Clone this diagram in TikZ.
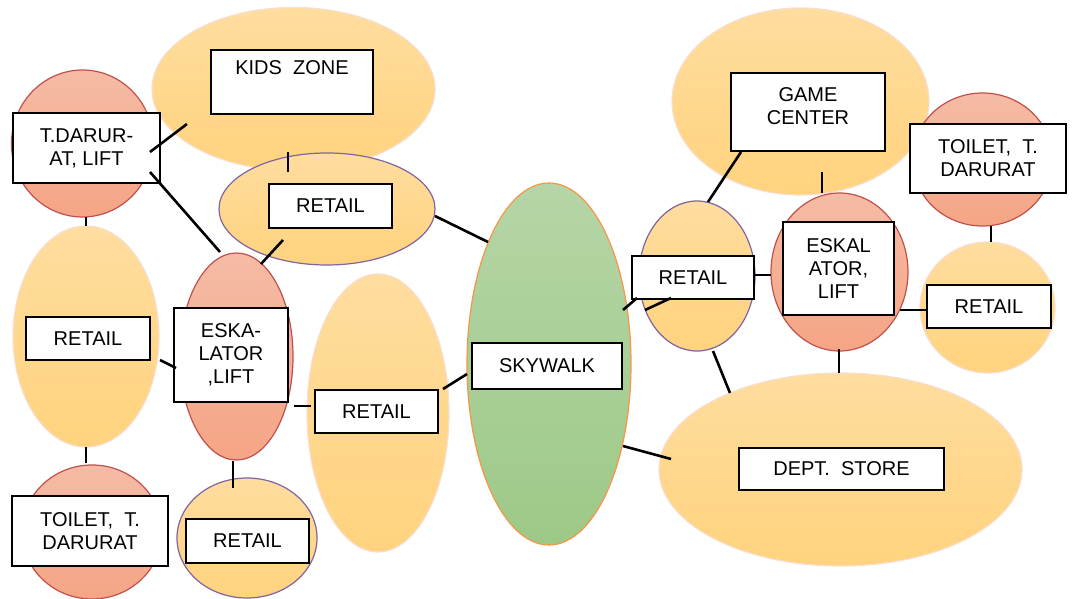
\documentclass[tikz,border=0pt]{standalone}
\usepackage{fontspec}
\setmainfont{Liberation Sans}
\usepackage{tikz}
\usetikzlibrary{shapes.geometric, positioning, calc}

\definecolor{yelTop}{RGB}{255,221,159}
\definecolor{yelBot}{RGB}{255,211,126}
\definecolor{yelEdge}{RGB}{248,222,206}
\definecolor{redTop}{RGB}{245,187,165}
\definecolor{redBot}{RGB}{245,165,133}
\definecolor{redEdge}{RGB}{192,80,77}
\definecolor{grnTop}{RGB}{181,213,166}
\definecolor{grnBot}{RGB}{157,201,135}
\definecolor{walkEdge}{RGB}{247,150,70}
\definecolor{shopEdge}{RGB}{128,100,162}

\tikzset{
    zone/.style={ellipse, inner sep=0pt, outer sep=0pt, line width=0.6pt,
        top color=yelTop, bottom color=yelBot, draw=yelEdge},
    shop/.style={zone, draw=shopEdge},
    core/.style={zone, top color=redTop, bottom color=redBot, draw=redEdge},
    walk/.style={zone, top color=grnTop, bottom color=grnBot, draw=walkEdge},
    tag/.style={draw=black, fill=white, line width=0.75pt, inner sep=1pt,
        outer sep=0pt, align=center, font=\fontsize{10}{11.5}\selectfont},
    sz/.style 2 args={minimum width=#1pt, minimum height=#2pt},
    link/.style={line width=1.3pt}
}

\begin{document}
\begin{tikzpicture}[x=0.5pt, y=-0.5pt]
\useasboundingbox (0,0) rectangle (1072,599);
% Zones, left wing
\node[zone, sz={141.5}{81.5}] (kidsE) at (293.5,89) {};
\node[core, sz={71}{73.5}] (tdlE) at (82.5,143.5) {};
\node[shop, sz={108}{56}] (retTopE) at (327,209) {};
\node[zone, sz={73}{110.5}] (retLeftE) at (86,336.5) {};
\node[core, sz={56.5}{103.5}] (eskLE) at (236.5,356.5) {};
\node[core, sz={70}{67}] (toiLE) at (92,532) {};
\node[shop, sz={70}{60}] (retBotE) at (247,538) {};
\node[zone, sz={71}{139}] (retMidE) at (378,413) {};
% Skywalk
\node[walk, sz={82}{181}] (skyE) at (549,364) {};
% Zones, right wing
\node[shop, sz={58}{75}] (retRE) at (697,276) {};
\node[zone, sz={128.5}{93.5}] (gameE) at (800.5,101.5) {};
\node[core, sz={68.5}{79}] (eskRE) at (839.5,272) {};
\node[core, sz={70}{66.5}] (toiRE) at (982.5,159.5) {};
\node[zone, sz={67.5}{65.5}] (retFarE) at (987.5,307.5) {};
\node[zone, sz={181.5}{96.5}] (deptE) at (840.5,469.5) {};

% Labels
\node[tag, sz={81}{32}, text depth=14pt] (kidsB) at (292,82) {KIDS~ ZONE};
\node[tag, sz={73.5}{35}] (tdlB) at (86.5,148) {T.DARUR-\\AT, LIFT};
\node[tag, sz={61.5}{22}] (retTopB) at (330.5,206) {RETAIL};
\node[tag, sz={62}{21.5}] (retLeftB) at (88,338.5) {RETAIL};
\node[tag, sz={57}{47}] (eskLB) at (231,355) {ESKA-\\LATOR\\,LIFT};
\node[tag, sz={78}{35}] (toiLB) at (90,531) {TOILET,~ T.\\DARURAT};
\node[tag, sz={61.5}{22}] (retBotB) at (247.5,541) {RETAIL};
\node[tag, sz={61.5}{21.5}] (retMidB) at (376.5,411.5) {RETAIL};
\node[tag, sz={75}{23}] (skyB) at (547,366) {SKYWALK};
\node[tag, sz={61}{21.5}] (retRB) at (693,277.5) {RETAIL};
\node[tag, sz={77}{39}, text depth=5.5pt] (gameB) at (808,112) {GAME\\CENTER};
\node[tag, sz={55.5}{46.5}] (eskRB) at (838.5,268.5) {ESKAL\\ATOR,\\LIFT};
\node[tag, sz={78}{34.5}] (toiRB) at (988,158.5) {TOILET,~ T.\\DARURAT};
\node[tag, sz={62}{21.5}] (retFarB) at (989,306.5) {RETAIL};
\node[tag, sz={102.5}{21}] (deptB) at (841.5,469) {DEPT.~ STORE};

% Links
\draw[link] ([shift={(-10,4)}]tdlB.east) -- ([shift={(-6.5,-22.6)}]kidsE.south west);
\draw[link] ([shift={(-10,-11)}]tdlB.south east) -- ([shift={(-16.5,-1)}]eskLE.north);
\draw[link] ([shift={(-5.5,-18.5)}]kidsE.south) -- ([shift={(-39,19)}]retTopE.north);
\draw[link] ([shift={(14,12)}]retTopB.south west) -- ([shift={(24.5,11)}]eskLE.north);
\draw[link] ([shift={(0,7)}]retTopE.east) -- ([shift={(-3,6)}]skyE.north west);
\draw[link] ([shift={(3.5,0)}]tdlE.south) -- (retLeftE.north);
\draw[link] ([shift={(1,23.5)}]retLeftE.east) -- ([shift={(2,13)}]eskLB.west);
\draw[link] (retLeftE.south) -- ([shift={(-6,-2)}]toiLE.north);
\draw[link] ([shift={(1,49.5)}]eskLE.east) -- ([shift={(-4,-5.5)}]retMidB.west);
\draw[link] ([shift={(-3.5,1)}]eskLE.south) -- ([shift={(-14,10)}]retBotE.north);
\draw[link] ([shift={(-6,-24)}]retMidE.east) -- ([shift={(0,10)}]skyE.west);
\draw[link] ([shift={(-8,-54)}]skyE.east) -- ([shift={(5,-1)}]retRB.south west);
\draw[link] ([shift={(-11,-19)}]retRE.south west) -- ([shift={(-22,-1)}]retRB.south);
\draw[link] ([shift={(-8,82)}]skyE.east) -- ([shift={(12,-10.5)}]deptE.west);
\draw[link] ([shift={(16,0)}]retRE.south) -- ([shift={(17.8,-8.3)}]deptE.north west);
\draw[link] ([shift={(11,1)}]retRE.north) -- ([shift={(10,1)}]gameB.south west);
\draw[link] ([shift={(21.5,-23)}]gameE.south) -- ([shift={(-17.5,0)}]eskRE.north);
\draw[link] ([shift={(1,-2.5)}]retRB.east) -- ([shift={(0,3)}]eskRE.west);
\draw[link] ([shift={(6,-5)}]eskRB.south east) -- ([shift={(0,3.5)}]retFarB.west);
\draw[link] ([shift={(8.5,0)}]toiRE.south) -- ([shift={(3.5,0)}]retFarE.north);
\draw[link] ([shift={(-0.5,-2)}]eskRE.south) -- ([shift={(-1.5,0)}]deptE.north);
\end{tikzpicture}
\end{document}
